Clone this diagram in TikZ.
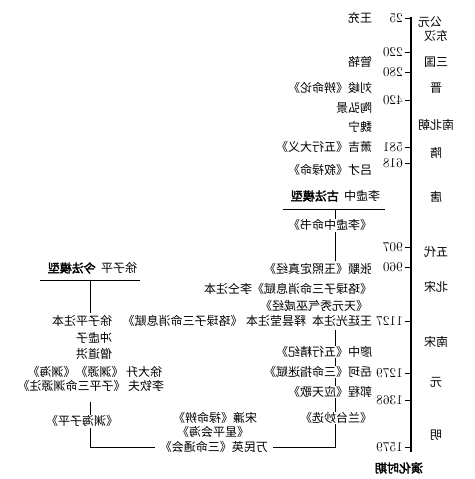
\documentclass[tikz,border=0pt]{standalone}
\usepackage{graphicx}
\usepackage{fontspec}
\newfontfamily\cjk{Noto Sans CJK SC}[AutoFakeBold=2.5]
\newcommand{\mir}[1]{\reflectbox{#1}}
\begin{document}
\begin{tikzpicture}[x=1pt,y=-1pt,
  txt/.style={inner sep=0.6pt, font=\cjk\fontsize{12}{12}\selectfont},
  tr/.style={txt, anchor=east},
  wt/.style={fill=white},
  num/.style={anchor=east, inner sep=0pt, font=\fontsize{13.5}{13.5}\selectfont},
  dyn/.style={txt},
  ln/.style={line width=1pt},
  axis/.style={line width=1.2pt}]
\useasboundingbox (0,0) rectangle (474,479);

% timeline
\coordinate (ttop) at (411,17);
\coordinate (tbot) at (411,452);
\draw[axis] (ttop) -- (tbot);
\foreach \y/\v in {18/25,52/220,72/280,100/420,147/581,163/618,247/907,267/960,321/1127,373/1279,400/1368,447/1579}{
  \node[num] (n\v) at (403,\y) {\mir{\v}};
  \draw[ln] (n\v.east) ++(2,0) -- (411,\y);
}
% dynasties
\node[dyn] (d1) at (430,22) {\mir{公元}};
\node[dyn] (d2) at (436,36) {\mir{东汉}};
\node[dyn] (d3) at (436,62) {\mir{三国}};
\node[dyn] (d4) at (436,88) {\mir{晋}};
\node[dyn] (d5) at (436,125) {\mir{南北朝}};
\node[dyn] (d6) at (436,153) {\mir{隋}};
\node[dyn] (d7) at (436,197) {\mir{唐}};
\node[dyn] (d8) at (436,252) {\mir{五代}};
\node[dyn] (d9) at (436,287) {\mir{北宋}};
\node[dyn] (d10) at (436,342) {\mir{南宋}};
\node[dyn] (d11) at (436,382) {\mir{元}};
\node[dyn] (d12) at (436,435) {\mir{明}};
\node[txt] (period) at (399,468) {\mir{\textbf{演化时期}}};

% early names
\node[tr] (a1) at (373,18) {\mir{王充}};
\node[tr] (a2) at (373,62) {\mir{管辂}};
\node[tr] (a3) at (373,88) {\mir{刘峻《辨命论》}};
\node[tr] (a4) at (373,108) {\mir{陶弘景}};
\node[tr] (a5) at (373,127) {\mir{魏宁}};
\node[tr] (a6) at (373,147) {\mir{萧吉《五行大义》}};
\node[tr] (a7) at (373,170) {\mir{吕才《叙禄命》}};

% old-method heading
\node[tr] (h1) at (381,196) {\mir{李虚中\hspace{0.45em}\textbf{古法模型}}};
\coordinate (u1l) at (283,209);
\coordinate (u1r) at (385,209);
\draw[ln] (u1l) -- (u1r);
\coordinate (s1) at (335,209);
\node[txt] (b1) at (330,225) {\mir{《李虚中命书》}};
\draw[ln] (s1) -- (s1 |- b1.north);
\coordinate (s2) at (335,261);
\draw[ln] (s1 |- b1.south) ++(0,1) -- (s2);

\node[tr] (c1) at (373,269) {\mir{张颙《玉照定真经》}};
\node[tr] (c2) at (373,289) {\mir{《珞琭子三命消息赋》李仝注本}};
\node[tr] (c3) at (369,306) {\mir{《天元秀气巫咸经》}};
\node[tr] (c4) at (373,321) {\mir{王廷光注本\hspace{0.5em}释昙莹注本\hspace{0.3em}《珞琭子三命消息赋》}};

% lower old branch
\coordinate (s3) at (335,330);
\coordinate (s4) at (335,447);
\coordinate (bl) at (90,447);
\draw[ln] (s3) -- (s4) -- (bl);
\node[tr,wt] (e1) at (373,352) {\mir{廖中《五行精纪》}};
\node[tr,wt] (e2) at (373,372) {\mir{岳珂《三命指迷赋》}};
\node[tr,wt] (e3) at (373,392) {\mir{郭程《应天歌》}};
\node[txt,wt] (e4) at (336,418) {\mir{《兰台妙选》}};

% bottom works
\node[tr] (f1) at (258,418) {\mir{宋濂《禄命辨》}};
\node[txt] (f2) at (213,432) {\mir{《星平会海》}};
\node[tr,fill=white,inner xsep=5pt] (f3) at (273,447) {\mir{万民英《三命通会》}};

% new-method heading
\node[tr] (h2) at (138,268) {\mir{徐子平\hspace{0.45em}\textbf{今法模型}}};
\coordinate (u2l) at (40,280);
\coordinate (u2r) at (140,280);
\draw[ln] (u2l) -- (u2r);
\coordinate (t1) at (90,280);
\coordinate (t2) at (90,313);
\draw[ln] (t1) -- (t2);
\node[tr] (g1) at (113,321) {\mir{徐子平注本}};
\node[tr] (g2) at (113,338) {\mir{冲虚子}};
\node[tr] (g3) at (113,354) {\mir{僧道洪}};
\node[tr] (g4) at (163,372) {\mir{徐大升\ 《渊源》《渊海》}};
\node[tr] (g5) at (165,386) {\mir{李钦夫\ 《子平三命渊源注》}};
\coordinate (t3) at (90,402);
\node[txt] (g6) at (82,421) {\mir{《渊海子平》}};
\draw[ln] (t3) -- (t3 |- g6.north);
\draw[ln] (t3 |- g6.south) ++(0,1) -- (bl);
\end{tikzpicture}
\end{document}
